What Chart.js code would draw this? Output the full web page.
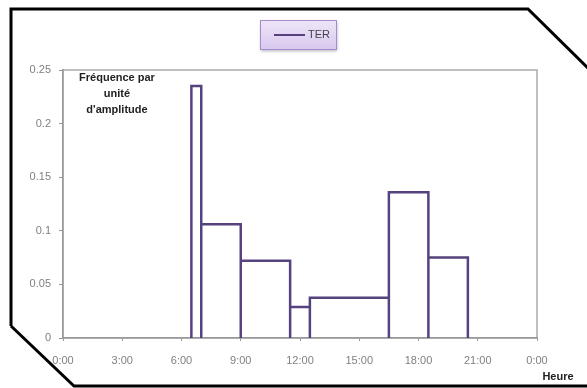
<!DOCTYPE html>
<html lang="fr">
<head>
  <meta charset="UTF-8" />
  <title>TER - Fréquence par unité d'amplitude</title>
  <script src="https://cdn.jsdelivr.net/npm/chart.js"></script>
  <style>
    body {
      margin: 0;
      background: #ffffff;
    }
    canvas {
      display: block;
    }
  </style>
</head>
<body>
  <canvas id="histChart" width="587" height="388"></canvas>
  <script>
    // bins (hours) and frequency per unit of amplitude
    const binStart = [6.5, 7, 9, 11.5, 12.5, 16.5, 18.5];
    const binEnd   = [7, 9, 11.5, 12.5, 16.5, 18.5, 20.5];
    const density  = [0.235, 0.106, 0.072, 0.029, 0.0375, 0.136, 0.075];
    const xTickLabels = ['0:00', '3:00', '6:00', '9:00', '12:00', '15:00', '18:00', '21:00', '0:00'];
    const seriesName = 'TER';

    // outline of each rectangle, built from the bins
    const outline = [];
    binStart.forEach((s, i) => {
      outline.push({ x: s, y: 0 }, { x: s, y: density[i] }, { x: binEnd[i], y: density[i] }, { x: binEnd[i], y: 0 });
    });

    const decor = {
      id: 'decor',
      beforeDraw(chart) {
        const ctx = chart.ctx;
        const a = chart.chartArea;
        ctx.save();
        ctx.fillStyle = '#fff';
        ctx.fillRect(0, 0, chart.width, chart.height);
        // outer frame with cut corners
        ctx.beginPath();
        ctx.moveTo(11, 326);
        ctx.lineTo(11, 9);
        ctx.lineTo(528, 9);
        ctx.lineTo(590, 70);
        ctx.moveTo(590, 386);
        ctx.lineTo(74, 386);
        ctx.lineTo(11, 326);
        ctx.strokeStyle = '#000';
        ctx.lineWidth = 3;
        ctx.stroke();
        // plot box
        ctx.strokeStyle = '#aaa';
        ctx.lineWidth = 1.5;
        ctx.strokeRect(a.left, a.top, a.right - a.left, a.bottom - a.top);
        ctx.restore();
      },
      afterDraw(chart) {
        const ctx = chart.ctx;
        ctx.save();
        // legend box
        const lx = 260, ly = 20, lw = 76, lh = 29;
        ctx.shadowColor = 'rgba(0,0,0,0.3)';
        ctx.shadowOffsetX = 1;
        ctx.shadowOffsetY = 2;
        ctx.shadowBlur = 3;
        const g = ctx.createLinearGradient(0, ly, 0, ly + lh);
        g.addColorStop(0, '#efe6f8');
        g.addColorStop(1, '#d9c8ef');
        ctx.fillStyle = g;
        ctx.fillRect(lx, ly, lw, lh);
        ctx.shadowColor = 'transparent';
        ctx.strokeStyle = '#a68ccc';
        ctx.lineWidth = 1;
        ctx.strokeRect(lx + 0.5, ly + 0.5, lw, lh);
        ctx.beginPath();
        ctx.moveTo(274, 35);
        ctx.lineTo(305, 35);
        ctx.strokeStyle = '#55427f';
        ctx.lineWidth = 2;
        ctx.stroke();
        ctx.fillStyle = '#444';
        ctx.font = '11px "Liberation Sans", Arial, sans-serif';
        ctx.textBaseline = 'middle';
        ctx.fillText(chart.data.datasets[0].label, 308, 35);
        // axis titles
        ctx.fillStyle = '#222';
        ctx.font = 'bold 11px "Liberation Sans", Arial, sans-serif';
        ctx.textAlign = 'center';
        ctx.fillText('Fréquence par', 117, 78);
        ctx.fillText('unité', 117, 94);
        ctx.fillText("d'amplitude", 117, 110);
        ctx.fillText('Heure', 558, 377);
        ctx.restore();
      }
    };

    new Chart(document.getElementById('histChart'), {
      type: 'scatter',
      data: {
        datasets: [{
          label: seriesName,
          data: outline,
          showLine: true,
          borderColor: '#55427f',
          borderWidth: 2.5,
          pointRadius: 0,
          fill: false
        }]
      },
      options: {
        responsive: false,
        animation: false,
        layout: { padding: { top: 70, right: 50, left: 0, bottom: 0 } },
        plugins: {
          legend: { display: false },
          tooltip: { enabled: false }
        },
        scales: {
          x: {
            type: 'linear',
            min: 0,
            max: 24,
            afterFit: s => { s.height = 50; },
            afterBuildTicks: s => { s.ticks = xTickLabels.map((_, i) => ({ value: i * 3 })); },
            border: { color: '#999', width: 1.5 },
            grid: { drawOnChartArea: false, tickLength: 3, color: '#999' },
            ticks: {
              color: '#808080',
              font: { size: 11, family: '"Liberation Sans", Arial, sans-serif' },
              padding: 13,
              maxRotation: 0,
              callback: (v, i) => xTickLabels[i]
            }
          },
          y: {
            min: 0,
            max: 0.25,
            afterFit: s => { s.width = 63; },
            border: { color: '#999', width: 1.5 },
            grid: { drawOnChartArea: false, tickLength: 4, color: '#999' },
            ticks: {
              stepSize: 0.05,
              color: '#808080',
              font: { size: 11, family: '"Liberation Sans", Arial, sans-serif' },
              padding: 8,
              callback: v => String(Number(v.toFixed(2)))
            }
          }
        }
      },
      plugins: [decor]
    });
  </script>
</body>
</html>
